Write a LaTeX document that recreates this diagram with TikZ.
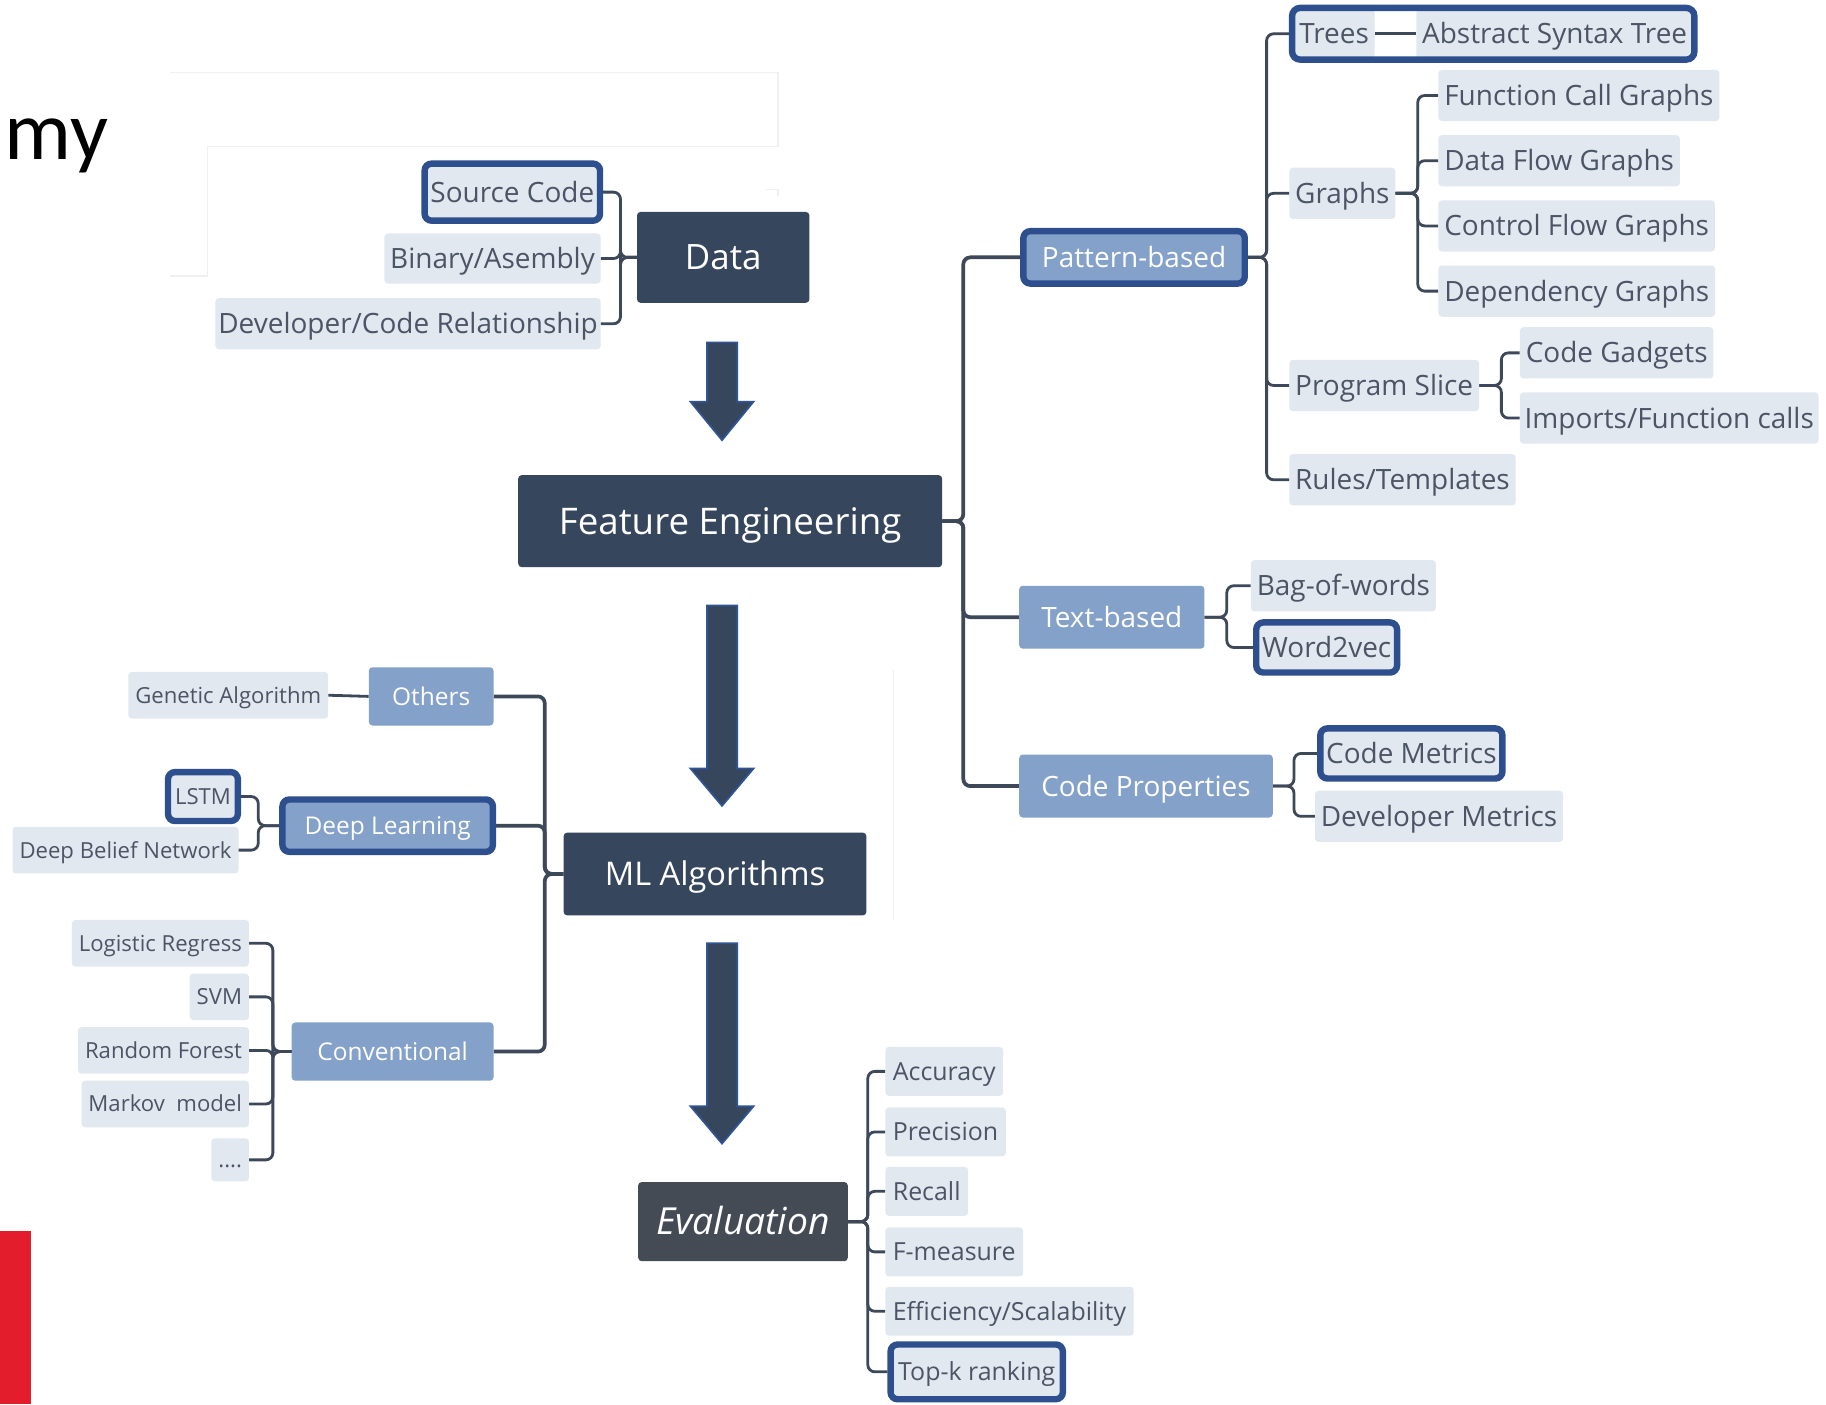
\documentclass[tikz,border=0pt]{standalone}
\usepackage{fontspec}
\setmainfont{Open Sans}
\newfontfamily\slidefont{Carlito}
\usetikzlibrary{fit}

\definecolor{darknode}{HTML}{36465D}
\definecolor{evalnode}{HTML}{454B55}
\definecolor{midnode}{HTML}{84A1C9}
\definecolor{lightnode}{HTML}{E2E8F0}
\definecolor{itemtext}{HTML}{4B5565}
\definecolor{hlblue}{HTML}{2D4F8E}
\definecolor{connline}{HTML}{3D4859}
\definecolor{arrowedge}{HTML}{2F5597}
\definecolor{slidered}{HTML}{E31D2B}
\definecolor{faintline}{HTML}{F0F0F0}

\newcommand\fsz[1]{\fontsize{#1}{#1}\selectfont}
\newcommand\blockarrow[3]{%
  \draw[fill=darknode, draw=arrowedge, line width=1.5pt, line join=miter]
    (607,#1) -- (633,#1) -- (633,#2) -- (647,#2) -- (620,#3) -- (593,#2) -- (607,#2) -- cycle;}

\tikzset{
  root/.style={fill=darknode, text=white, rounded corners=3pt, inner sep=0pt,
    font=\fsz{30}, text height=21.6pt, text depth=0pt},
  mid/.style={fill=midnode, text=white, rounded corners=3pt, inner xsep=19pt, inner ysep=0pt,
    font=\fsz{24}, text height=17.2pt, text depth=0pt, minimum height=54pt},
  midS/.style={mid, inner xsep=20pt, font=\fsz{21}, text height=15pt, minimum height=50pt},
  item/.style={fill=lightnode, text=itemtext, rounded corners=3pt, inner xsep=5pt, inner ysep=0pt,
    font=\fsz{24}, text height=17.2pt, text depth=0pt, minimum height=44pt},
  itemM/.style={item, inner xsep=6.5pt, font=\fsz{21.4}, text height=15.3pt, minimum height=42pt},
  itemS/.style={item, inner xsep=6pt, font=\fsz{19}, text height=13.7pt, minimum height=40pt},
  hl/.style={draw=hlblue, line width=5.5pt, rounded corners=6pt},
  conn/.style={draw=connline, line width=2.4pt, rounded corners=6pt},
  mainconn/.style={conn, line width=3.2pt},
  faint/.style={draw=faintline, line width=1pt}
}

\begin{document}
\begin{tikzpicture}[x=1pt, y=-1pt]
\useasboundingbox[fill=white] (0,0) rectangle (1568,1206);

% leftovers of the slide around the map
\draw[faint] (146,62) -- (668,62) -- (668,126);
\draw[faint] (668,126) -- (178,126) -- (178,237) -- (146,237);
\draw[faint] (658,163) -- (668,163) -- (668,168);
\draw[faint] (767,575) -- (767,790);
\node[font=\slidefont\fsz{72}, anchor=base east, inner sep=0pt] (title) at (93,137) {my};
\fill[slidered] (0,1057) rectangle (27,1206);

% ---------- Data ----------
\node[root, minimum width=148pt, minimum height=78pt] (data) at (621,221) {Data};
\node[item, hl, anchor=east, minimum height=49pt] (src) at (518,165) {Source Code};
\node[item, anchor=east, minimum height=43pt] (bin) at (516,222) {Binary/Asembly};
\node[item, anchor=east, inner xsep=2.5pt] (dev) at (516,278) {Developer/Code Relationship};

% ---------- Feature Engineering ----------
\node[root, font=\fsz{31.5}, text height=22.7pt, minimum width=364pt, minimum height=79pt] (fe) at (627,447.5) {Feature Engineering};
\node[mid, hl, anchor=west, inner xsep=16pt, minimum height=45pt] (pat) at (876,221) {Pattern-based};
\node[mid, anchor=west] (txt) at (875,530) {Text-based};
\node[mid, anchor=west] (cp) at (875,675) {Code Properties};

\node[item, anchor=west, minimum height=42pt] (trees) at (1110.5,29) {Trees};
\node[item, anchor=west, minimum height=42pt] (ast) at (1216,29) {Abstract Syntax Tree};
\node[item, anchor=west] (graphs) at (1107,166) {Graphs};
\node[item, anchor=west] (fcg) at (1235,82) {Function Call Graphs};
\node[item, anchor=west] (dfg) at (1235,138) {Data Flow Graphs};
\node[item, anchor=west] (cfg) at (1235,194) {Control Flow Graphs};
\node[item, anchor=west] (dg) at (1235,250) {Dependency Graphs};
\node[item, anchor=west] (slice) at (1107,331) {Program Slice};
\node[item, anchor=west] (gadget) at (1305,303) {Code Gadgets};
\node[item, anchor=west, inner xsep=4pt] (imports) at (1305,359) {Imports/Function calls};
\node[item, anchor=west] (rules) at (1107,412) {Rules/Templates};

\node[item, anchor=west] (bow) at (1074,503) {Bag-of-words};
\node[item, hl, anchor=west, minimum height=43pt] (w2v) at (1076,556) {Word2vec};

\node[item, hl, anchor=west, minimum height=43pt] (cm) at (1131,647) {Code Metrics};
\node[item, anchor=west] (dm) at (1129,701) {Developer Metrics};

% ---------- ML Algorithms ----------
\node[root, font=\fsz{28}, text height=20pt, minimum width=260pt, minimum height=71pt] (ml) at (614,750.5) {ML Algorithms};
\node[midS, anchor=east] (others) at (424,598) {Others};
\node[itemS, anchor=east] (ga) at (282,597) {Genetic Algorithm};
\node[midS, hl, anchor=east, inner xsep=19pt, minimum height=45pt] (dl) at (426,709) {Deep Learning};
\node[itemS, hl, anchor=east, minimum height=42pt] (lstm) at (207,684) {LSTM};
\node[itemS, anchor=east] (dbn) at (205,730) {Deep Belief Network};
\node[midS, anchor=east, inner xsep=22pt] (conv) at (424,903) {Conventional};
\node[itemS, anchor=east] (lr) at (214,810) {Logistic Regress};
\node[itemS, anchor=east] (svm) at (214,856) {SVM};
\node[itemS, anchor=east] (rf) at (214,902) {Random Forest};
\node[itemS, anchor=east] (mm) at (214,948) {Markov\ \ model};
\node[itemS, anchor=east, minimum height=37pt] (dots) at (214,996) {....};

% ---------- Evaluation ----------
\node[root, fill=evalnode, font=\fsz{32}\itshape, text height=22.8pt, minimum width=180pt, minimum height=68pt] (eval) at (638,1049) {Evaluation};
\node[itemM, anchor=west] (acc) at (760,920) {Accuracy};
\node[itemM, anchor=west] (prec) at (760,972) {Precision};
\node[itemM, anchor=west] (rec) at (760,1023) {Recall};
\node[itemM, anchor=west] (fm) at (760,1075) {F-measure};
\node[itemM, anchor=west] (eff) at (760,1126) {Efficiency/Scalability};
\node[itemM, hl, anchor=west, minimum height=47pt] (topk) at (762,1178) {Top-k ranking};

% ---------- connectors ----------
\foreach \n in {src,bin,dev} \draw[conn] (data.west) -- ++(-14,0) |- (\n.east);
\foreach \n in {pat,txt,cp} \draw[mainconn] (fe.east) -- ++(18,0) |- (\n.west);
\foreach \n in {trees,graphs,slice,rules} \draw[conn] (pat.east) -- ++(16,0) |- (\n.west);
\draw[conn] (trees.east) -- (ast.west);
\foreach \n in {fcg,dfg,cfg,dg} \draw[conn] (graphs.east) -- ++(19,0) |- (\n.west);
\foreach \n in {gadget,imports} \draw[conn] (slice.east) -- ++(19,0) |- (\n.west);
\foreach \n in {bow,w2v} \draw[conn] (txt.east) -- ++(19,0) |- (\n.west);
\foreach \n in {cm,dm} \draw[conn] (cp.east) -- ++(18,0) |- (\n.west);
\foreach \n in {others,dl,conv} \draw[mainconn] (ml.west) -- ++(-16,0) |- (\n.east);
\draw[conn] (others.west) -- (ga.east);
\foreach \n in {lstm,dbn} \draw[conn] (dl.west) -- ++(-18,0) |- (\n.east);
\foreach \n in {lr,svm,rf,mm,dots} \draw[conn] (conv.west) -- ++(-16,0) |- (\n.east);
\foreach \n in {acc,prec,rec,fm,eff,topk} \draw[conn] (eval.east) -- ++(17,0) |- (\n.west);

% frame around the tree pair
\node[draw=hlblue, line width=5.5pt, rounded corners=7pt, inner sep=1pt, fit=(trees)(ast)] (treeframe) {};

% flow arrows between the stages
\blockarrow{294}{345}{378}
\blockarrow{520}{660}{692}
\blockarrow{810}{950}{982}
\end{tikzpicture}
\end{document}
